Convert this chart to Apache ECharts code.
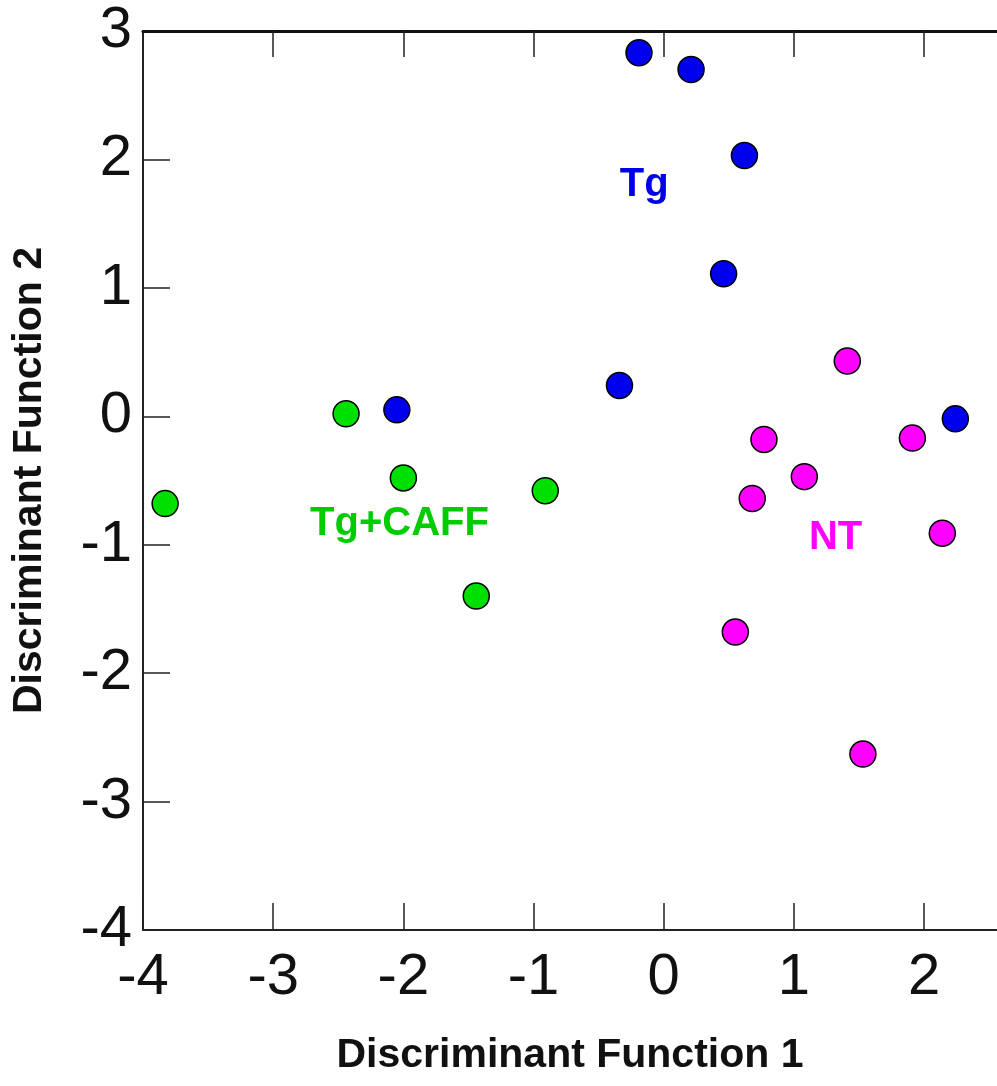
<!DOCTYPE html>
<html>
<head>
<meta charset="utf-8">
<script src="https://cdn.jsdelivr.net/npm/echarts@6/dist/echarts.min.js"></script>
<style>
  html, body { margin: 0; padding: 0; background: #ffffff; }
  #chart { width: 997px; height: 1086px; }
</style>
</head>
<body>
<div id="chart"></div>
<script>
// Discriminant scores per group: [function 1, function 2]
const tgPoints = [
  [-0.19, 2.83], [0.21, 2.70], [0.62, 2.03], [0.46, 1.11],
  [-0.34, 0.24], [-2.05, 0.05], [2.24, -0.02]
];
const tgCaffPoints = [
  [-3.83, -0.68], [-2.44, 0.02], [-2.00, -0.48], [-0.91, -0.58], [-1.44, -1.40]
];
const ntPoints = [
  [1.41, 0.43], [0.77, -0.18], [1.91, -0.17], [1.08, -0.47],
  [0.68, -0.64], [2.14, -0.91], [0.55, -1.68], [1.53, -2.63]
];

// Group names and where their labels sit (in data units)
const groupNames = ['Tg', 'Tg+CAFF', 'NT'];
const groupLabelPos = [[-0.15, 1.80], [-2.03, -0.84], [1.32, -0.95]];
const groupColors = ['#0000ee', '#00e000', '#ff00ff'];
const labelColors = ['#0000e6', '#00cc00', '#ff00ff'];

// Axis ranges and tick values
const xMin = -4, xMax = 2.56;
const yMin = -4, yMax = 3;
const xTicks = [-4, -3, -2, -1, 0, 1, 2];
const yTicks = [-4, -3, -2, -1, 0, 1, 2, 3];

const chart = echarts.init(document.getElementById('chart'), null, { renderer: 'canvas' });

const baseFont = 'Liberation Sans, Arial, Helvetica, sans-serif';

function pointSeries(name, data, color) {
  return {
    name: name,
    type: 'scatter',
    xAxisIndex: 0,
    yAxisIndex: 0,
    data: data,
    symbol: 'circle',
    symbolSize: 26,
    itemStyle: { color: color, borderColor: '#000000', borderWidth: 1.5, opacity: 1 },
    emphasis: { disabled: true },
    z: 3
  };
}

// Group names written next to their clusters
const labelSeries = {
  type: 'scatter',
  xAxisIndex: 0,
  yAxisIndex: 0,
  symbolSize: 0,
  silent: true,
  itemStyle: { opacity: 1 },
  emphasis: { disabled: true },
  data: groupNames.map((n, i) => ({
    value: groupLabelPos[i],
    name: n,
    label: {
      show: true,
      position: 'inside',
      formatter: n,
      color: labelColors[i],
      opacity: 1,
      fontFamily: baseFont,
      fontWeight: 'bold',
      fontSize: 40
    }
  })),
  z: 4
};

const option = {
  animation: false,
  backgroundColor: '#ffffff',
  grid: { left: 143, top: 31, right: 0, bottom: 156, containLabel: false },
  xAxis: [
    {
      type: 'value',
      position: 'bottom',
      min: xMin,
      max: xMax,
      interval: 1,
      name: 'Discriminant Function 1',
      nameLocation: 'middle',
      nameGap: 105,
      nameTextStyle: { fontFamily: baseFont, fontWeight: 'bold', fontSize: 41, color: '#111111' },
      axisLine: { show: true, onZero: false, lineStyle: { color: '#222222', width: 2 } },
      axisTick: { show: true, inside: true, length: 27, customValues: xTicks, lineStyle: { color: '#222222', width: 1.5 } },
      axisLabel: { show: true, margin: 19, customValues: xTicks, fontFamily: baseFont, fontSize: 58, color: '#111111' },
      splitLine: { show: false }
    },
    {
      type: 'value',
      position: 'top',
      min: xMin,
      max: xMax,
      interval: 1,
      axisLine: { show: true, onZero: false, lineStyle: { color: '#111111', width: 3 } },
      axisTick: { show: true, inside: true, length: 26, customValues: xTicks.slice(1), lineStyle: { color: '#222222', width: 1.5 } },
      axisLabel: { show: false },
      splitLine: { show: false }
    }
  ],
  yAxis: [
    {
      type: 'value',
      position: 'left',
      min: yMin,
      max: yMax,
      interval: 1,
      name: 'Discriminant Function 2',
      nameLocation: 'middle',
      nameGap: 93,
      nameTextStyle: { fontFamily: baseFont, fontWeight: 'bold', fontSize: 41, color: '#111111' },
      axisLine: { show: true, onZero: false, lineStyle: { color: '#222222', width: 2 } },
      axisTick: { show: true, inside: true, length: 27, customValues: yTicks.slice(1, -1), lineStyle: { color: '#222222', width: 1.5 } },
      axisLabel: { show: true, margin: 11, customValues: yTicks, fontFamily: baseFont, fontSize: 58, color: '#111111' },
      splitLine: { show: false }
    }
  ],
  series: [
    pointSeries(groupNames[0], tgPoints, groupColors[0]),
    pointSeries(groupNames[1], tgCaffPoints, groupColors[1]),
    pointSeries(groupNames[2], ntPoints, groupColors[2]),
    labelSeries
  ]
};

chart.setOption(option);
</script>
</body>
</html>
